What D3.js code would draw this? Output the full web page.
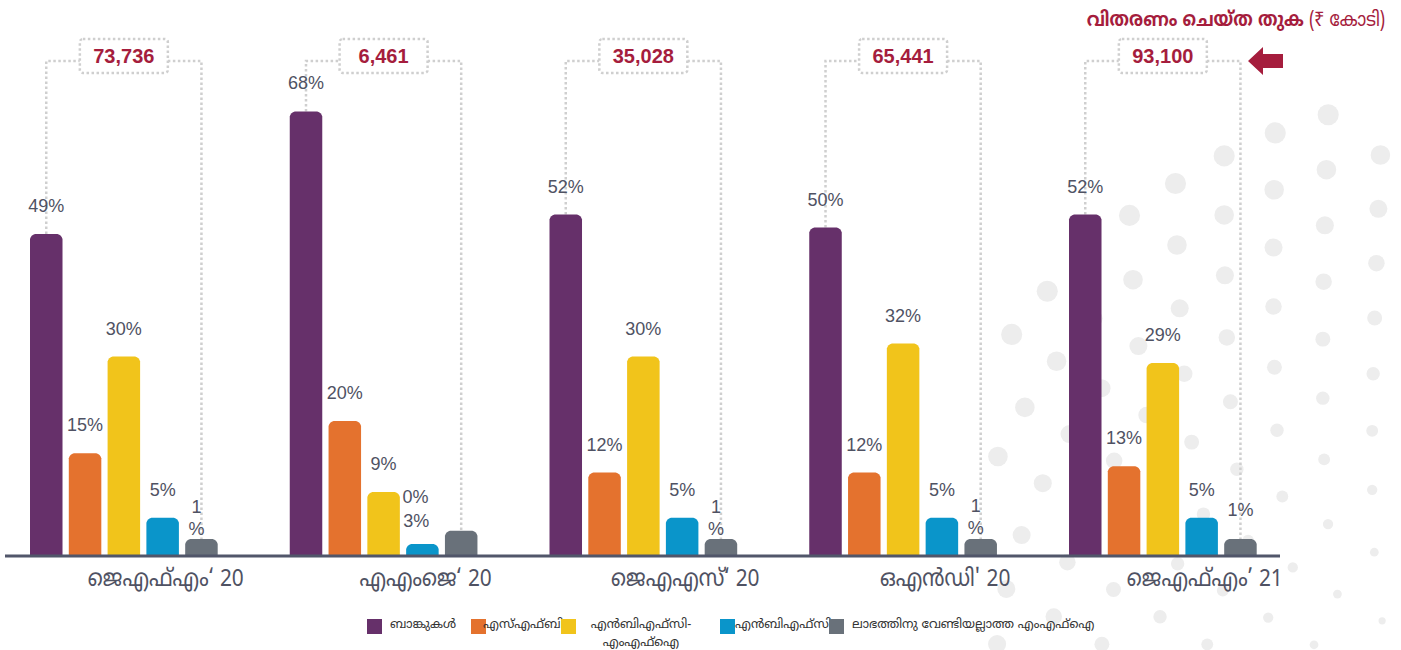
<!DOCTYPE html>
<html><head><meta charset="utf-8">
<script src="https://cdn.jsdelivr.net/npm/d3@7"></script>
<style>html,body{margin:0;padding:0;background:#fff;} svg{display:block;}</style>
</head><body>
<svg id="chart" width="1401" height="650"></svg>
<script>
// ---------- DATA ----------
const groups = ["ജെഎഫ്എം‘ 20", "എഎംജെ‘ 20", "ജെഎഎസ്‘ 20", "ഒഎൻഡി' 20", "ജെഎഫ്എം’ 21"];
const seriesNames = ["ബാങ്കുകൾ", "എസ്എഫ്ബി", "എൻബിഎഫ്സി-|എംഎഫ്ഐ", "എൻബിഎഫ്സി", "ലാഭത്തിനു വേണ്ടിയല്ലാത്ത എംഎഫ്ഐ"];
const banks     = [49, 68, 52, 50, 52];
const sfb       = [15, 20, 12, 12, 13];
const nbfcMfi   = [30, 9, 30, 32, 29];
const nbfc      = [5, 0, 5, 5, 5];
const nonProfit = [1, 3, 1, 1, 1];
const totals    = [73736, 6461, 35028, 65441, 93100];
const titleMain = "വിതരണം ചെയ്ത തുക ";
const titleUnit = "(₹ കോടി)";

const seriesValues = [banks, sfb, nbfcMfi, nbfc, nonProfit];

// ---------- STYLE / LAYOUT ----------
const colors = ["#66306a", "#e4722e", "#f1c41b", "#0a95ca", "#69717a"];
const fontML = "'Noto Sans Malayalam','Noto Sans','Liberation Sans',Arial,sans-serif";
const fontNum = "'Liberation Sans',Arial,sans-serif";
const red = "#a51d3d";
const textGray = "#4f5263";
const baseY = 555;

const svg = d3.select("#chart");

// decorative dots (background ornament)
const dots = svg.append("g");
const cx0 = 1500, cy0 = 700;
for (let r = 90; r <= 640; r += 52) {
  const step = 56 / r;
  const off = ((Math.round(r / 52)) % 2) * step / 2;
  for (let a = Math.PI + off; a <= 1.5 * Math.PI; a += step) {
    const px = cx0 + r * Math.cos(a), py = cy0 + r * Math.sin(a);
    if (px < 995 || py < 105 || px > 1401 || py > 650) continue;
    dots.append("circle").attr("cx", px).attr("cy", py)
      .attr("r", 1.5 + 9.5 * (r / 640)).attr("fill", "#ededed");
  }
}

const x0 = d3.scaleBand().domain(groups).range([30, 30 + 5 * 259.75]).padding(0);
const x1 = d3.scaleBand().domain(d3.range(5)).range([0, 187.7]).paddingInner(0.162).paddingOuter(0);
const y = d3.scaleLinear().domain([0, 100]).range([baseY, baseY - 645]);
const capExtra = 5;
const minH = v => v > 0 ? 16 : 11;
const barTop = v => Math.min(y(v) - capExtra, baseY - minH(v));

function barPath(x, top, w, bottom) {
  const r = Math.min(5, (bottom - top) / 2);
  return `M${x},${bottom}L${x},${top + r}Q${x + 1},${top + 1} ${x + r},${top}` +
    `L${x + w - r},${top}Q${x + w - 1},${top + 1} ${x + w},${top + r}L${x + w},${bottom}Z`;
}

// brackets with totals
const fmt = d3.format(",");
const bg = svg.append("g");
const dotStyle = sel => sel.attr("stroke", "#cfcfcf").attr("stroke-width", 2.5)
  .attr("stroke-dasharray", "2.5,2.5").attr("fill", "none");
groups.forEach((g, gi) => {
  const xl = x0(g) + x1(0) + x1.bandwidth() / 2;
  const xr = x0(g) + x1(4) + x1.bandwidth() / 2;
  const xm = (xl + xr) / 2;
  const bw = 88, bh = 34, by = 39, ly = 61;
  bg.append("path").call(dotStyle)
    .attr("d", `M${xl},${barTop(seriesValues[0][gi])}L${xl},${ly}L${xm - bw / 2},${ly}`);
  bg.append("path").call(dotStyle)
    .attr("d", `M${xm + bw / 2},${ly}L${xr},${ly}L${xr},${barTop(seriesValues[4][gi])}`);
  bg.append("rect").call(dotStyle).attr("x", xm - bw / 2).attr("y", by)
    .attr("width", bw).attr("height", bh).attr("rx", 3).attr("fill", "#fff");
  bg.append("text").attr("x", xm).attr("y", by + bh / 2 + 7)
    .attr("text-anchor", "middle").attr("font-family", fontNum).attr("font-weight", "bold")
    .attr("font-size", 20).attr("fill", red).text(fmt(totals[gi]));
});

// bars
const barsG = svg.append("g");
groups.forEach((g, gi) => {
  seriesValues.forEach((vals, si) => {
    const x = x0(g) + x1(si);
    barsG.append("path").attr("fill", colors[si])
      .attr("d", barPath(x, barTop(vals[gi]), x1.bandwidth(), baseY));
  });
});

// axis line
svg.append("line").attr("x1", 5).attr("x2", 1280).attr("y1", baseY + 1).attr("y2", baseY + 1)
  .attr("stroke", "#51566a").attr("stroke-width", 3);

// value labels
const labelTweaks = {
  "0-4": { dx: -5, dy: -2, lines: ["1", "%"] },
  "2-4": { dx: -5, dy: -2, lines: ["1", "%"] },
  "3-4": { dx: -5, dy: -3, lines: ["1", "%"] },
  "4-4": { dx: 0, dy: -1 },
  "1-3": { dx: -7, dy: -19 },
  "1-4": { dx: -45, dy: 18 }
};
const lblG = svg.append("g").attr("font-family", fontNum).attr("font-size", 18).attr("fill", textGray)
  .attr("text-anchor", "middle");
groups.forEach((g, gi) => {
  seriesValues.forEach((vals, si) => {
    const cx = x0(g) + x1(si) + x1.bandwidth() / 2;
    const t = barTop(vals[gi]);
    const tw = labelTweaks[gi + "-" + si] || { dx: 0, dy: 0 };
    const txt = vals[gi] + "%";
    const lines = tw.lines || [txt];
    const n = lines.length;
    lines.forEach((ln, li) => {
      lblG.append("text").attr("x", cx + tw.dx)
        .attr("y", t - 22 + tw.dy + (li - (n - 1)) * 22 + (n > 1 ? 20 : 0))
        .text(ln);
    });
  });
});

// x labels
svg.append("g").selectAll("text").data(groups).join("text")
  .attr("transform", d => `translate(${x0(d) + 187.7 / 2 + 42},586) scale(0.95,1.08)`)
  .attr("text-anchor", "middle").attr("font-family", fontML).attr("font-size", 22)
  .attr("fill", textGray).text(d => d);

// title
const tt = svg.append("text").attr("transform", "translate(1385,26) scale(0.86,1)")
  .attr("text-anchor", "end")
  .attr("font-family", fontML).attr("font-size", 20).attr("fill", red);
tt.append("tspan").attr("font-weight", "bold").text(titleMain);
tt.append("tspan").text(titleUnit);

// arrow
svg.append("path").attr("fill", red)
  .attr("d", "M1248,61L1263,47L1263,54L1283,54L1283,68L1263,68L1263,75Z");

// legend
const legendLayout = [
  { sx: 367, tx: 390, anchor: "start" },
  { sx: 471, tx: 483, anchor: "start" },
  { sx: 561, tx: 641, anchor: "middle" },
  { sx: 720, tx: 735, anchor: "start" },
  { sx: 829, tx: 852, anchor: "start" }
];
const lg = svg.append("g");
seriesNames.forEach((name, i) => {
  const L = legendLayout[i];
  lg.append("rect").attr("x", L.sx).attr("y", 619).attr("width", 15).attr("height", 15).attr("fill", colors[i]);
  const t = lg.append("text").attr("font-family", fontML).attr("font-size", 12.5).attr("fill", "#333")
    .attr("text-anchor", L.anchor);
  name.split("|").forEach((part, pi) => {
    t.append("tspan").attr("x", L.tx).attr("y", 628 + pi * 18).text(part);
  });
});
</script>
</body></html>
